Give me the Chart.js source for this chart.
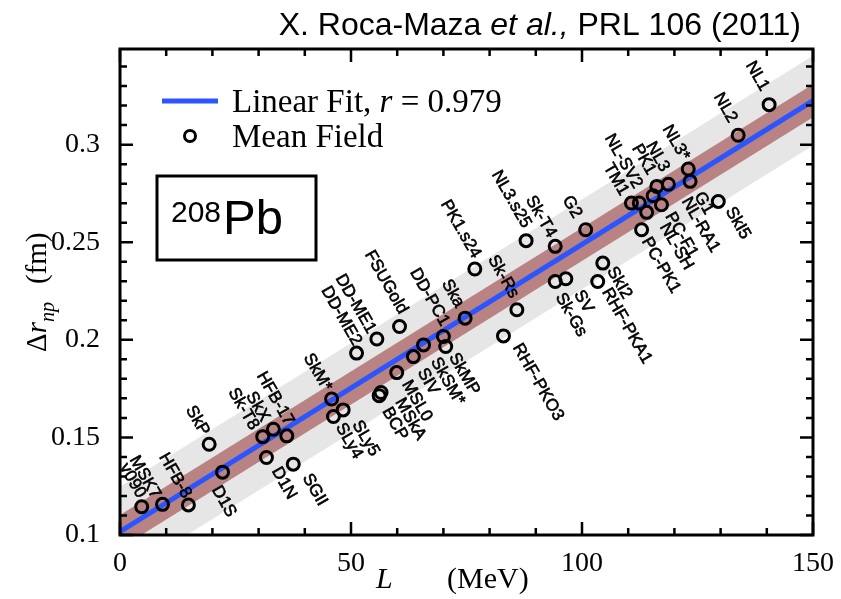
<!DOCTYPE html>
<html>
<head>
<meta charset="utf-8">
<script src="https://cdn.jsdelivr.net/npm/chart.js@4.4.1/dist/chart.umd.min.js"></script>
<style>
  body { margin: 0; background: #fff; }
  canvas { display: block; }
</style>
</head>
<body>
<canvas id="chart" width="841" height="599"></canvas>
<script>
// model names, slope parameter L (MeV) and neutron skin of 208Pb (fm)
const names = ["v090","MSK7","HFB-8","SkP","D1S","Sk-T8","D1N","SkX","HFB-17","SGII",
  "SkM*","SLy4","SLy5","DD-ME2","DD-ME1","BCP","MSkA","MSL0","FSUGold","SIV",
  "SkSM*","DD-PC1","SkMP","Ska","PK1.s24","RHF-PKO3","Sk-Rs","NL3.s25","Sk-T4","Sk-Gs",
  "SV","G2","RHF-PKA1","SkI2","TM1","NL-SV2","PC-PK1","NL-SH","PC-F1","PK1",
  "NL-RA1","NL3","NL3*","G1","SkI5","NL2","NL1"];
const Lvals = [4.7, 9.2, 14.8, 19.3, 22.2, 30.9, 31.7, 33.2, 36.1, 37.5,
  45.8, 46.2, 48.3, 51.2, 55.6, 56.1, 56.5, 59.9, 60.5, 63.5,
  65.7, 70.0, 70.5, 74.7, 76.8, 83.0, 85.9, 87.9, 94.2, 94.2,
  96.5, 100.8, 103.4, 104.5, 110.7, 112.4, 112.9, 114.0, 115.4, 116.2,
  117.2, 118.7, 123.0, 123.4, 129.5, 133.8, 140.5];
const drVals = [0.1145, 0.1157, 0.1154, 0.1465, 0.1322, 0.1504, 0.1397, 0.1542, 0.1508, 0.1363,
  0.1697, 0.1607, 0.1641, 0.1932, 0.2004, 0.1714, 0.1730, 0.1832, 0.2068, 0.1914,
  0.1974, 0.2017, 0.1966, 0.2111, 0.2363, 0.2020, 0.2154, 0.2508, 0.2479, 0.2299,
  0.2313, 0.2564, 0.2299, 0.2393, 0.2701, 0.2701, 0.2564, 0.2653, 0.2738, 0.2786,
  0.2692, 0.2797, 0.2875, 0.2812, 0.2709, 0.3048, 0.3205];

// linear fit and its bands, read at L = 0 and L = 150
const fitL = [0, 150];
const fitDr = [0.1017, 0.3225];
const innerUpper = [0.1102, 0.3310];
const innerLower = [0.0932, 0.3140];
const outerUpper = [0.1247, 0.3455];
const outerLower = [0.0787, 0.2995];

const xTicks = [0, 50, 100, 150];
const yTicks = [0.1, 0.15, 0.2, 0.25, 0.3];

// label placement: [dx, dy, side] side 'a' = text ends at anchor, 'b' = text starts at anchor
const labelLayout = {
  "v090":[0,-10,"a"], "MSK7":[-6,-7,"a"], "HFB-8":[-1,-8,"a"], "SkP":[-4,-10,"a"],
  "D1S":[-7,15,"b"], "Sk-T8":[-8,-8,"a"], "D1N":[9,11,"b"], "SkX":[-8,-9,"a"],
  "HFB-17":[3,-12,"a"], "SGII":[13,11,"b"], "SkM*":[-4,-9,"a"], "SLy4":[6,8,"b"],
  "SLy5":[13,12,"b"], "DD-ME2":[1,-9,"a"], "DD-ME1":[-5,-7,"a"], "BCP":[7,13,"b"],
  "MSkA":[18,7,"b"], "MSL0":[9,9,"b"], "FSUGold":[4,-14,"a"], "SIV":[8,13,"b"],
  "SkSM*":[11,14,"b"], "DD-PC1":[2,-12,"a"], "SkMP":[7,8,"b"], "Ska":[-5,-12,"a"],
  "PK1.s24":[2,-12,"a"], "RHF-PKO3":[13,9,"b"], "Sk-Rs":[-2,-13,"a"], "NL3.s25":[1,-14,"a"],
  "Sk-T4":[-3,-10,"a"], "Sk-Gs":[4,13,"b"], "SV":[12,13,"b"], "G2":[-8,-13,"a"],
  "RHF-PKA1":[8,8,"b"], "SkI2":[8,5,"b"], "TM1":[-7,-9,"a"], "NL-SV2":[-1,-16,"a"],
  "PC-PK1":[4,9,"b"], "NL-SH":[17,12,"b"], "PC-F1":[16,18,"b"], "PK1":[-5,-13,"a"],
  "NL-RA1":[24,-6,"b"], "NL3":[-3,-14,"a"], "NL3*":[-3,-10,"a"], "G1":[8,12,"b"],
  "SkI5":[11,7,"b"], "NL2":[-5,-14,"a"], "NL1":[-4,-15,"a"]
};

const serif = "'Liberation Serif', 'Times New Roman', serif";
const sans = "'Liberation Sans', Arial, sans-serif";

function pts(xs, ys) { return xs.map((x, i) => ({ x: x, y: ys[i] })); }

const decorPlugin = {
  id: "decor",
  afterDatasetsDraw(chart) {
    const ctx = chart.ctx;
    const xs = chart.scales.x, ys = chart.scales.y;
    const a = chart.chartArea;
    ctx.save();

    // model labels (a thin stroke makes them a bit heavier, like the original)
    ctx.fillStyle = "#000";
    ctx.strokeStyle = "#000";
    ctx.lineWidth = 0.6;
    ctx.font = "17px " + sans;
    ctx.textBaseline = "middle";
    names.forEach((n, i) => {
      const lay = labelLayout[n];
      const px = xs.getPixelForValue(Lvals[i]) + lay[0];
      const py = ys.getPixelForValue(drVals[i]) + lay[1];
      ctx.save();
      ctx.translate(px, py);
      ctx.rotate(60 * Math.PI / 180);
      ctx.textAlign = lay[2] === "b" ? "left" : "right";
      ctx.fillText(n, 0, 0);
      ctx.strokeText(n, 0, 0);
      ctx.restore();
    });

    // frame and inward ticks
    ctx.strokeStyle = "#000";
    ctx.lineWidth = 3;
    ctx.strokeRect(a.left, a.top, a.right - a.left, a.bottom - a.top);
    ctx.lineWidth = 2.5;
    ctx.beginPath();
    for (let v = 0; v <= 150; v += 10) {
      const px = xs.getPixelForValue(v);
      const len = v % 50 === 0 ? 13 : 7;
      ctx.moveTo(px, a.bottom); ctx.lineTo(px, a.bottom - len);
      ctx.moveTo(px, a.top); ctx.lineTo(px, a.top + len);
    }
    for (let k = 10; k <= 34; k++) {
      const py = ys.getPixelForValue(k / 100);
      const len = k % 5 === 0 ? 13 : 7;
      ctx.moveTo(a.left, py); ctx.lineTo(a.left + len, py);
      ctx.moveTo(a.right, py); ctx.lineTo(a.right - len, py);
    }
    ctx.stroke();

    // legend
    ctx.strokeStyle = "#2a55ff";
    ctx.lineWidth = 5;
    ctx.beginPath(); ctx.moveTo(162, 101); ctx.lineTo(218, 101); ctx.stroke();
    ctx.strokeStyle = "#000";
    ctx.lineWidth = 3;
    ctx.beginPath(); ctx.arc(190, 136, 5.5, 0, Math.PI * 2); ctx.stroke();
    ctx.fillStyle = "#000";
    ctx.textAlign = "left";
    ctx.textBaseline = "alphabetic";
    let x = 232;
    ctx.font = "33px " + serif;
    ctx.fillText("Linear Fit, ", x, 112); x += ctx.measureText("Linear Fit, ").width;
    ctx.font = "italic 33px " + serif;
    ctx.fillText("r", x, 112); x += ctx.measureText("r").width;
    ctx.font = "33px " + serif;
    ctx.fillText(" = 0.979", x, 112);
    ctx.fillText("Mean Field", 232, 147);

    // 208Pb box
    ctx.lineWidth = 3;
    ctx.strokeRect(157, 176, 159, 84);
    ctx.font = "30px " + sans;
    ctx.fillText("208", 171, 222);
    ctx.font = "49px " + sans;
    ctx.fillText("Pb", 223, 234);

    // citation
    const parts = [["X. Roca-Maza ", ""], ["et al.,", "italic "], [" PRL 106 (2011)", ""]];
    let total = 0;
    parts.forEach(p => { ctx.font = p[1] + "32px " + sans; total += ctx.measureText(p[0]).width; });
    x = 801 - total;
    parts.forEach(p => {
      ctx.font = p[1] + "32px " + sans;
      ctx.fillText(p[0], x, 35);
      x += ctx.measureText(p[0]).width;
    });

    // x axis title
    ctx.font = "italic 30px " + serif;
    ctx.fillText("L", 376, 588);
    ctx.font = "30px " + serif;
    ctx.fillText("(MeV)", 447, 588);

    // y axis title
    ctx.save();
    ctx.translate(46, 352);
    ctx.rotate(-Math.PI / 2);
    let y = 0;
    ctx.font = "29px " + serif;
    ctx.fillText("\u0394", y, 0); y += ctx.measureText("\u0394").width;
    ctx.font = "italic 29px " + serif;
    ctx.fillText("r", y, 0); y += ctx.measureText("r").width;
    ctx.font = "italic 20px " + serif;
    ctx.fillText("np", y, 8); y += ctx.measureText("np").width + 18;
    ctx.font = "29px " + serif;
    ctx.fillText("(fm)", y, 0);
    ctx.restore();

    ctx.restore();
  }
};

new Chart(document.getElementById("chart"), {
  type: "scatter",
  data: {
    datasets: [
      { data: pts(fitL, outerUpper), showLine: true, borderWidth: 0, pointRadius: 0,
        backgroundColor: "#e6e6e6", fill: "+1", order: 6 },
      { data: pts(fitL, outerLower), showLine: true, borderWidth: 0, pointRadius: 0, order: 7 },
      { data: pts(fitL, innerUpper), showLine: true, borderWidth: 0, pointRadius: 0,
        backgroundColor: "#b98383", fill: "+1", order: 4 },
      { data: pts(fitL, innerLower), showLine: true, borderWidth: 0, pointRadius: 0, order: 5 },
      { data: pts(fitL, fitDr), showLine: true, borderColor: "#2a55ff", borderWidth: 5,
        pointRadius: 0, order: 2 },
      { data: pts(Lvals, drVals), pointRadius: 6, pointBorderWidth: 3,
        pointBorderColor: "#000", pointBackgroundColor: "rgba(0,0,0,0)", order: 1 }
    ]
  },
  options: {
    responsive: false,
    animation: false,
    devicePixelRatio: 1,
    layout: { padding: { top: 49, right: 28, left: 0, bottom: 0 } },
    plugins: { legend: { display: false }, tooltip: { enabled: false } },
    scales: {
      x: {
        type: "linear", min: 0, max: 150,
        grid: { display: false }, border: { display: false },
        afterBuildTicks: s => { s.ticks = xTicks.map(v => ({ value: v })); },
        afterFit: s => { s.height = 64; },
        ticks: { color: "#000", padding: 4, maxRotation: 0, font: { family: serif, size: 28 },
          callback: v => String(v) }
      },
      y: {
        type: "linear", min: 0.1, max: 0.349,
        grid: { display: false }, border: { display: false },
        afterBuildTicks: s => { s.ticks = yTicks.map(v => ({ value: v })); },
        afterFit: s => { s.width = 120; },
        ticks: { color: "#000", padding: 12, font: { family: serif, size: 28 },
          callback: v => String(v) }
      }
    }
  },
  plugins: [decorPlugin]
});
</script>
</body>
</html>
